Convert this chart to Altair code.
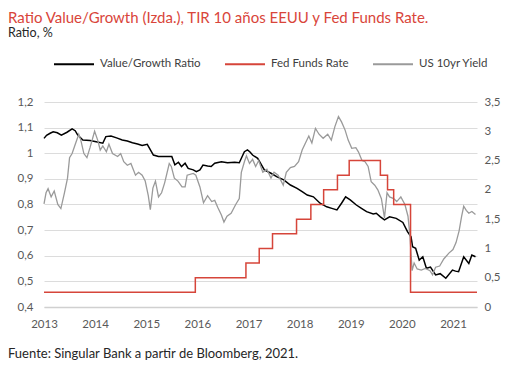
import altair as alt
import pandas as pd

# ---------------- data ----------------
series_names = ["Value/Growth Ratio", "Fed Funds Rate", "US 10yr Yield"]
series_colors = ["#000000", "#D6453A", "#9A9A9A"]
x_tick_years = [2013, 2014, 2015, 2016, 2017, 2018, 2019, 2020, 2021]
left_ticks = [0.4, 0.5, 0.6, 0.7, 0.8, 0.9, 1.0, 1.1, 1.2]
right_ticks = [0, 0.5, 1, 1.5, 2, 2.5, 3, 3.5]

vg_years = [2013.00, 2013.05, 2013.12, 2013.18, 2013.26, 2013.34, 2013.45, 2013.55, 2013.61,
            2013.66, 2013.76, 2013.90, 2014.02, 2014.15, 2014.21, 2014.31, 2014.42, 2014.53,
            2014.63, 2014.73, 2014.83, 2014.92, 2015.02, 2015.14, 2015.24, 2015.37, 2015.50,
            2015.56, 2015.63, 2015.69, 2015.76, 2015.82, 2015.92, 2015.98, 2016.05, 2016.11,
            2016.20, 2016.27, 2016.34, 2016.47, 2016.59, 2016.73, 2016.82, 2016.89, 2016.92,
            2016.98, 2017.03, 2017.08, 2017.18, 2017.31, 2017.44, 2017.56, 2017.69, 2017.82,
            2017.95, 2018.05, 2018.15, 2018.27, 2018.40, 2018.53, 2018.63, 2018.73, 2018.82,
            2018.90, 2018.99, 2019.11, 2019.21, 2019.31, 2019.44, 2019.50, 2019.58, 2019.66,
            2019.76, 2019.89, 2020.02, 2020.11, 2020.18, 2020.21, 2020.27, 2020.34, 2020.41,
            2020.48, 2020.56, 2020.66, 2020.75, 2020.86, 2020.99, 2021.05, 2021.11, 2021.21,
            2021.31, 2021.37, 2021.44]
vg_values = [1.058, 1.070, 1.078, 1.084, 1.080, 1.071, 1.082, 1.095, 1.088,
             1.071, 1.052, 1.050, 1.045, 1.039, 1.065, 1.067, 1.060, 1.052,
             1.048, 1.041, 1.036, 1.030, 1.035, 0.993, 0.987, 0.987, 0.987,
             0.955, 0.965, 0.948, 0.961, 0.941, 0.935, 0.928, 0.935, 0.954,
             0.950, 0.948, 0.961, 0.967, 0.963, 0.965, 0.963, 0.993, 1.006,
             1.013, 1.005, 0.993, 0.980, 0.935, 0.922, 0.908, 0.896, 0.876,
             0.863, 0.850, 0.837, 0.830, 0.805, 0.791, 0.785, 0.779, 0.805,
             0.830, 0.818, 0.798, 0.785, 0.772, 0.763, 0.766, 0.752, 0.740,
             0.752, 0.746, 0.730, 0.694, 0.674, 0.635, 0.629, 0.583, 0.596,
             0.551, 0.556, 0.525, 0.530, 0.512, 0.544, 0.540, 0.538, 0.596,
             0.570, 0.603, 0.596]

ffr_years = [2013.00, 2015.96, 2016.95, 2017.21, 2017.47, 2017.94, 2018.22, 2018.47,
             2018.74, 2018.97, 2019.58, 2019.72, 2019.84, 2020.17, 2021.47]
ffr_values = [0.25, 0.50, 0.75, 1.00, 1.25, 1.50, 1.75, 2.00,
              2.25, 2.50, 2.25, 2.00, 1.75, 0.25, 0.25]

y10_years = [2013.00, 2013.04, 2013.08, 2013.14, 2013.20, 2013.27, 2013.33, 2013.40, 2013.46,
             2013.50, 2013.55, 2013.60, 2013.68, 2013.72, 2013.78, 2013.84, 2013.90, 2013.99,
             2014.05, 2014.10, 2014.15, 2014.22, 2014.27, 2014.34, 2014.44, 2014.50, 2014.56,
             2014.63, 2014.70, 2014.79, 2014.85, 2014.92, 2014.98, 2015.04, 2015.08, 2015.13,
             2015.18, 2015.24, 2015.30, 2015.36, 2015.45, 2015.49, 2015.55, 2015.62, 2015.70,
             2015.76, 2015.80, 2015.92, 2015.97, 2016.05, 2016.12, 2016.20, 2016.28, 2016.34,
             2016.40, 2016.47, 2016.52, 2016.58, 2016.66, 2016.75, 2016.82, 2016.86, 2016.92,
             2016.96, 2017.02, 2017.08, 2017.14, 2017.20, 2017.28, 2017.36, 2017.44, 2017.50,
             2017.58, 2017.68, 2017.74, 2017.82, 2017.90, 2017.98, 2018.05, 2018.11, 2018.18,
             2018.24, 2018.31, 2018.38, 2018.46, 2018.55, 2018.62, 2018.69, 2018.76, 2018.82,
             2018.89, 2018.95, 2019.02, 2019.10, 2019.15, 2019.22, 2019.28, 2019.34, 2019.40,
             2019.47, 2019.53, 2019.60, 2019.66, 2019.71, 2019.76, 2019.84, 2019.90, 2019.98,
             2020.06, 2020.12, 2020.16, 2020.20, 2020.24, 2020.30, 2020.38, 2020.46, 2020.55,
             2020.60, 2020.66, 2020.74, 2020.82, 2020.92, 2021.00, 2021.06, 2021.12, 2021.17,
             2021.21, 2021.26, 2021.31, 2021.37, 2021.44]
y10_values = [1.76, 1.95, 2.02, 1.88, 1.98, 1.75, 1.68, 1.95, 2.20,
              2.55, 2.62, 2.75, 2.95, 2.85, 2.62, 2.55, 2.72, 3.00,
              2.85, 2.68, 2.75, 2.65, 2.78, 2.62, 2.57, 2.62, 2.48,
              2.42, 2.45, 2.25, 2.30, 2.25, 2.15, 1.90, 1.66, 2.03,
              2.15, 1.88, 1.95, 2.12, 2.45, 2.40, 2.20, 2.15, 2.05,
              2.05, 2.25, 2.28, 2.25, 2.05, 1.78, 1.90, 1.80, 1.82,
              1.70, 1.57, 1.45, 1.55, 1.60, 1.75, 1.85, 2.30, 2.48,
              2.58, 2.45, 2.52, 2.40, 2.50, 2.30, 2.35, 2.20, 2.30,
              2.25, 2.08, 2.30, 2.38, 2.40, 2.48, 2.68, 2.79, 2.92,
              2.80, 3.05, 2.95, 2.88, 2.95, 2.85, 3.08, 3.25, 3.16,
              3.02, 2.85, 2.71, 2.72, 2.65, 2.50, 2.48, 2.40, 2.14,
              2.08, 2.00, 1.85, 1.52, 1.95, 1.88, 1.85, 1.80, 1.88,
              1.75, 1.55, 1.20, 0.62, 0.75, 0.65, 0.63, 0.66, 0.62,
              0.55, 0.68, 0.70, 0.82, 0.92, 0.98, 1.10, 1.30, 1.55,
              1.72, 1.65, 1.60, 1.63, 1.58]

title_text = "Ratio Value/Growth (Izda.), TIR 10 años EEUU y Fed Funds Rate."
subtitle_text = "Ratio, %"
footer_text = "Fuente: Singular Bank a partir de Bloomberg, 2021."

# ---------------- tables ----------------
vg_df = pd.DataFrame({"year": vg_years, "value": vg_values, "series": series_names[0]})
ffr_df = pd.DataFrame({"year": ffr_years, "value": ffr_values, "series": series_names[1]})
y10_df = pd.DataFrame({"year": y10_years, "value": y10_values, "series": series_names[2]})

FONT = "Lato"
AXIS_COLOR = "#595959"

x_enc = alt.X(
    "year:Q",
    scale=alt.Scale(domain=[2013, 2021.47], nice=False, zero=False),
    axis=alt.Axis(values=x_tick_years, format="d", title=None, grid=False, ticks=False,
                  domain=True, domainColor="#d0d0d0", domainWidth=1.5,
                  labelPadding=11, labelFont=FONT, labelFontSize=11.5,
                  labelColor=AXIS_COLOR, labelFlush=False, labelBound=False),
)

legend = alt.Legend(
    title=None, orient="none", direction="horizontal", legendX=9, legendY=-59,
    symbolType="stroke", symbolSize=1600, symbolStrokeWidth=2,
    labelFont=FONT, labelFontSize=11.5, labelColor="#404040",
    labelOffset=5, columnPadding=20,
)
color_enc = alt.Color("series:N",
                      scale=alt.Scale(domain=series_names, range=series_colors),
                      legend=legend)

left_layer = alt.Chart(vg_df).mark_line(strokeWidth=1.5).encode(
    x=x_enc,
    y=alt.Y("value:Q",
            scale=alt.Scale(domain=[0.4, 1.2], nice=False, zero=False),
            axis=alt.Axis(orient="left", values=left_ticks, title=None, grid=True,
                          gridColor="#dcdcdc", gridWidth=1, ticks=False, tickSize=0,
                          domain=False, labelPadding=11,
                          labelExpr="replace(format(datum.value, '~g'), '.', ',')",
                          labelFont=FONT, labelFontSize=11.5, labelColor=AXIS_COLOR)),
    color=color_enc,
)

right_y_axis = alt.Axis(orient="right", values=right_ticks, title=None, grid=False,
                        ticks=False, tickSize=0, domain=False, labelPadding=7,
                        labelExpr="replace(format(datum.value, '~g'), '.', ',')",
                        labelFont=FONT, labelFontSize=11.5, labelColor=AXIS_COLOR)
right_scale = alt.Scale(domain=[0, 3.5], nice=False, zero=False)

y10_layer = alt.Chart(y10_df).mark_line(strokeWidth=1.3).encode(
    x=x_enc,
    y=alt.Y("value:Q", scale=right_scale, axis=right_y_axis),
    color=color_enc,
)
ffr_layer = alt.Chart(ffr_df).mark_line(strokeWidth=1.5, interpolate="step-after").encode(
    x=x_enc,
    y=alt.Y("value:Q", scale=right_scale, axis=right_y_axis),
    color=color_enc,
)

right_layers = alt.layer(y10_layer, ffr_layer)
lines = alt.layer(left_layer, right_layers).resolve_scale(y="independent")

title_layer = alt.Chart(pd.DataFrame({"t": [title_text]})).mark_text(
    align="left", baseline="alphabetic", font=FONT, fontSize=15, color="#D9453A"
).encode(text="t:N", x=alt.value(-36), y=alt.value(-79))
subtitle_layer = alt.Chart(pd.DataFrame({"t": [subtitle_text]})).mark_text(
    align="left", baseline="alphabetic", font=FONT, fontSize=12.5, color="#262626"
).encode(text="t:N", x=alt.value(-36), y=alt.value(-65))
footer_layer = alt.Chart(pd.DataFrame({"t": [footer_text]})).mark_text(
    align="left", baseline="alphabetic", font=FONT, fontSize=13, color="#262626"
).encode(text="t:N", x=alt.value(-36), y=alt.value(256))

chart = alt.layer(lines, title_layer, subtitle_layer, footer_layer).properties(
    width=433, height=205,
    autosize=alt.AutoSizeParams(type="none"),
    padding={"left": 36, "top": 94, "right": 28, "bottom": 54},
).configure_view(stroke=None)

chart.save("out.html", embed_options={"renderer": "svg", "actions": False})
